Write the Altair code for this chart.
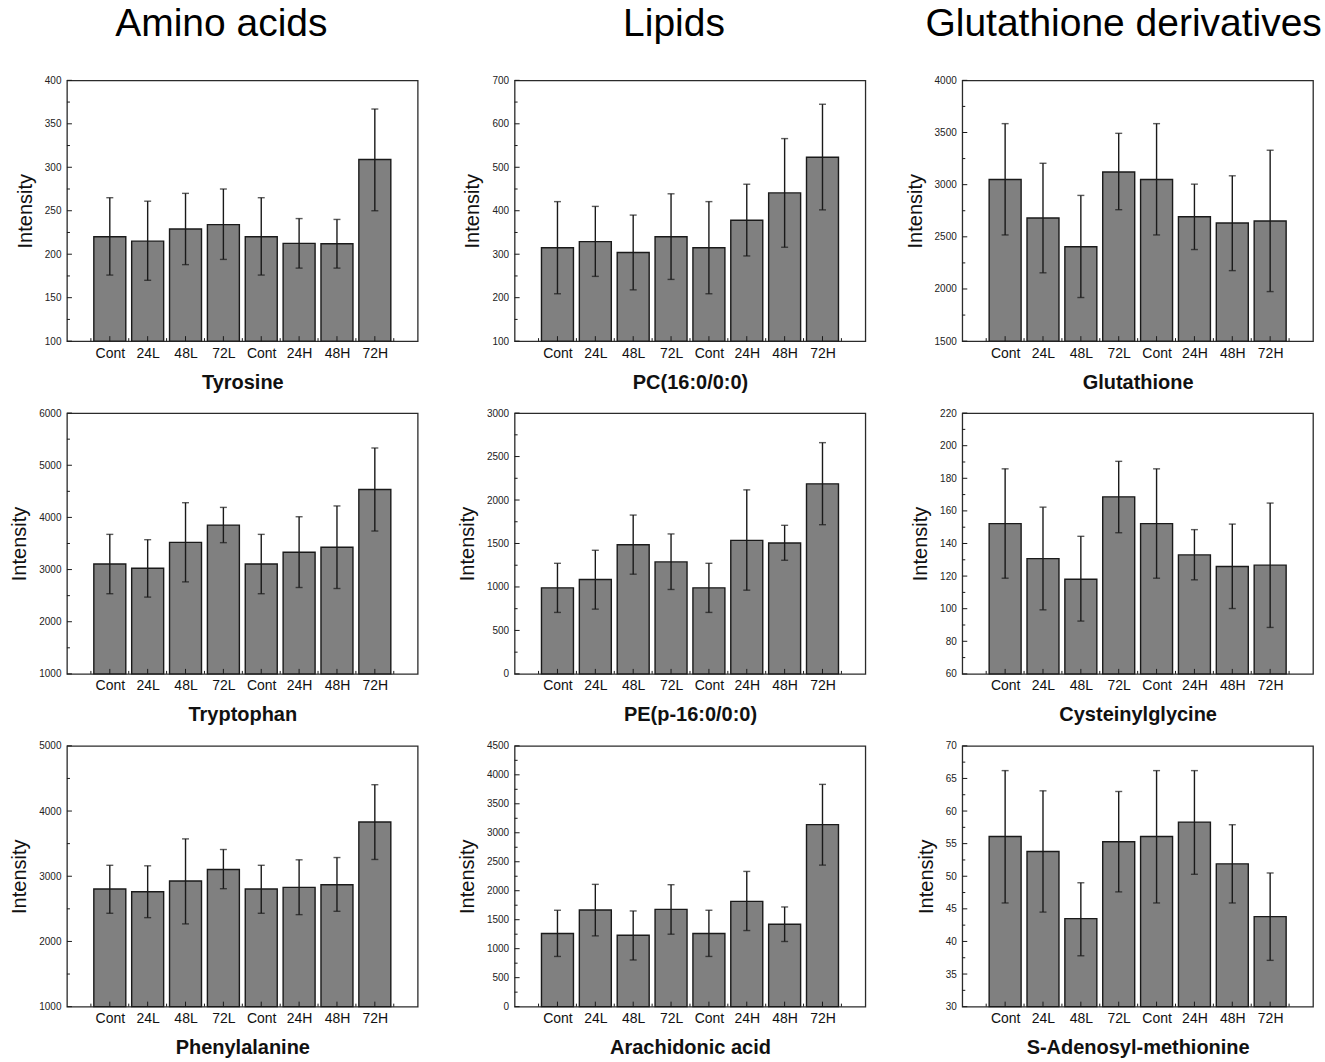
import json
import altair as alt
import pandas as pd

# ---------------- data ----------------
groups = ["Cont", "24L", "48L", "72L", "Cont", "24H", "48H", "72H"]
positions = [1, 2, 3, 4, 5, 6, 7, 8]
minor_x = [0.5, 1.5, 2.5, 3.5, 4.5, 5.5, 6.5, 7.5, 8.5]

column_titles = ["Amino acids", "Lipids", "Glutathione derivatives"]

tyrosine_mean = [220, 215, 229, 234, 220, 212.5, 212, 309]
tyrosine_hi = [265, 261, 270, 275, 265, 241, 240, 367]
tyrosine_lo = [176, 170, 188, 194, 176, 184, 184, 250]
tyrosine_ticks = [100, 150, 200, 250, 300, 350, 400]

pc_mean = [315, 329, 304, 340, 315, 378, 441, 523]
pc_hi = [421, 410, 390, 439, 421, 461, 566, 645]
pc_lo = [209, 249, 218, 242, 209, 296, 316, 402]
pc_ticks = [100, 200, 300, 400, 500, 600, 700]

gsh_mean = [3050, 2680, 2405, 3122, 3050, 2692, 2632, 2652]
gsh_hi = [3585, 3205, 2897, 3492, 3585, 3005, 3085, 3330]
gsh_lo = [2518, 2155, 1918, 2760, 2518, 2378, 2176, 1975]
gsh_ticks = [1500, 2000, 2500, 3000, 3500, 4000]

trp_mean = [3108, 3025, 3522, 3853, 3108, 3331, 3428, 4535]
trp_hi = [3675, 3573, 4282, 4192, 3675, 4013, 4220, 5331]
trp_lo = [2537, 2472, 2764, 3516, 2537, 2656, 2637, 3739]
trp_ticks = [1000, 2000, 3000, 4000, 5000, 6000]

pe_mean = [990, 1085, 1486, 1288, 990, 1536, 1506, 2186]
pe_hi = [1272, 1422, 1827, 1610, 1272, 2117, 1709, 2660]
pe_lo = [707, 745, 1147, 971, 707, 963, 1307, 1716]
pe_ticks = [0, 500, 1000, 1500, 2000, 2500, 3000]

cys_mean = [152.2, 130.7, 118.1, 168.6, 152.2, 133.0, 125.9, 126.7]
cys_hi = [185.8, 162.3, 144.4, 190.4, 185.8, 148.5, 151.9, 164.8]
cys_lo = [118.7, 99.3, 92.4, 146.6, 118.7, 117.7, 100.1, 88.5]
cys_ticks = [60, 80, 100, 120, 140, 160, 180, 200, 220]

phe_mean = [2804, 2763, 2926, 3104, 2804, 2829, 2870, 3833]
phe_hi = [3168, 3160, 3573, 3410, 3168, 3252, 3287, 4404]
phe_lo = [2432, 2365, 2269, 2809, 2432, 2411, 2462, 3257]
phe_ticks = [1000, 2000, 3000, 4000, 5000]

ara_mean = [1262, 1668, 1233, 1679, 1262, 1817, 1422, 3141]
ara_hi = [1663, 2110, 1651, 2104, 1663, 2333, 1720, 3835]
ara_lo = [866, 1221, 805, 1250, 866, 1313, 1124, 2442]
ara_ticks = [0, 500, 1000, 1500, 2000, 2500, 3000, 3500, 4000, 4500]

sam_mean = [56.1, 53.8, 43.5, 55.3, 56.1, 58.3, 51.9, 43.8]
sam_hi = [66.2, 63.1, 49.0, 63.0, 66.2, 66.2, 57.9, 50.5]
sam_lo = [45.9, 44.5, 37.8, 47.6, 45.9, 50.3, 45.9, 37.1]
sam_ticks = [30, 35, 40, 45, 50, 55, 60, 65, 70]

# ---------------- style ----------------
W, H = 351, 261
FONT = "Liberation Sans"
INK = "#1a1a1a"
label_expr = "%s[datum.value - 1]" % json.dumps(groups)


def panel(name, mean, hi, lo, yticks, title=None, title_dx=0):
    ymin, ymax = yticks[0], yticks[-1]
    minor_y = [(a + b) / 2 for a, b in zip(yticks[:-1], yticks[1:])]
    df = pd.DataFrame({"pos": positions, "group": groups, "mean": mean, "hi": hi, "lo": lo})
    xscale = alt.Scale(domain=[0, 9], nice=False, zero=False)
    yscale = alt.Scale(domain=[ymin, ymax], nice=False, zero=False)
    xaxis = alt.Axis(values=positions, labelExpr=label_expr, title=name,
                     ticks=False, domain=False, grid=False,
                     labelFontSize=14, labelPadding=5, labelColor="#111",
                     titleFontSize=20, titleFontWeight="bold", titlePadding=12,
                     titleColor="#111")
    yaxis = alt.Axis(values=yticks, format="d", title="Intensity",
                     ticks=False, domain=False, grid=False,
                     labelFontSize=10, labelPadding=6, labelColor="#222",
                     titleFontSize=20, titleFontWeight="normal", titlePadding=9,
                     titleColor="#111")

    def X(f):
        return alt.X(f, scale=xscale, axis=xaxis)

    def Y(f):
        return alt.Y(f, scale=yscale, axis=yaxis)

    base = alt.Chart(df)
    bars = base.mark_bar(size=32, fill="#808080", stroke=INK, strokeWidth=1.4).encode(
        x=X("pos:Q"), y=Y("mean:Q"), y2=alt.datum(ymin))
    err = base.mark_rule(color=INK, strokeWidth=1.4).encode(
        x=X("pos:Q"), y=Y("lo:Q"), y2="hi:Q")
    cap_hi = base.mark_tick(orient="horizontal", size=7, thickness=1.4, color=INK).encode(
        x=X("pos:Q"), y=Y("hi:Q"))
    cap_lo = base.mark_tick(orient="horizontal", size=7, thickness=1.4, color=INK).encode(
        x=X("pos:Q"), y=Y("lo:Q"))
    ymaj = alt.Chart(pd.DataFrame({"v": yticks})).mark_rule(color=INK, strokeWidth=1).encode(
        y=Y("v:Q"), x=alt.value(0), x2=alt.value(5))
    ymin_t = alt.Chart(pd.DataFrame({"v": minor_y})).mark_rule(color=INK, strokeWidth=1).encode(
        y=Y("v:Q"), x=alt.value(0), x2=alt.value(3))
    xmaj = alt.Chart(pd.DataFrame({"p": positions})).mark_rule(color=INK, strokeWidth=1).encode(
        x=X("p:Q"), y=alt.value(H), y2=alt.value(H - 5))
    xmin_t = alt.Chart(pd.DataFrame({"p": minor_x})).mark_rule(color=INK, strokeWidth=1).encode(
        x=X("p:Q"), y=alt.value(H), y2=alt.value(H - 3))

    layer = alt.layer(bars, err, cap_hi, cap_lo, ymaj, ymin_t, xmaj, xmin_t)
    props = dict(width=W, height=H)
    if title:
        props["title"] = alt.TitleParams(title, fontSize=39, fontWeight="normal", font=FONT,
                                         color="#000", anchor="middle", frame="group",
                                         dx=title_dx, offset=0, baseline="alphabetic")
    return layer.properties(**props)


panels = [
    panel("Tyrosine", tyrosine_mean, tyrosine_hi, tyrosine_lo, tyrosine_ticks, column_titles[0], -21),
    panel("PC(16:0/0:0)", pc_mean, pc_hi, pc_lo, pc_ticks, column_titles[1], -16),
    panel("Glutathione", gsh_mean, gsh_hi, gsh_lo, gsh_ticks, column_titles[2], -14),
    panel("Tryptophan", trp_mean, trp_hi, trp_lo, trp_ticks),
    panel("PE(p-16:0/0:0)", pe_mean, pe_hi, pe_lo, pe_ticks),
    panel("Cysteinylglycine", cys_mean, cys_hi, cys_lo, cys_ticks),
    panel("Phenylalanine", phe_mean, phe_hi, phe_lo, phe_ticks),
    panel("Arachidonic acid", ara_mean, ara_hi, ara_lo, ara_ticks),
    panel("S-Adenosyl-methionine", sam_mean, sam_hi, sam_lo, sam_ticks),
]

chart = alt.concat(*panels, columns=3, spacing={"row": 72, "column": 97}, bounds="flush").properties(
    padding={"left": 9, "top": 4, "right": 2, "bottom": 4},
    background="white",
).configure(font=FONT).configure_view(stroke="#2b2b2b", strokeWidth=1.3)

chart.save("out.html", embed_options={"renderer": "svg", "actions": False})
